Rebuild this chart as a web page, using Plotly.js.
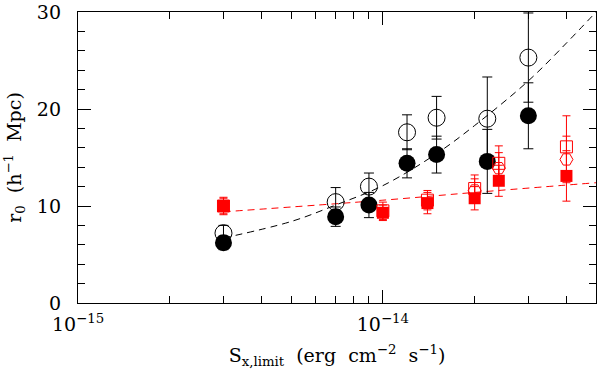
<!DOCTYPE html>
<html>
<head>
<meta charset="utf-8">
<script src="https://cdn.plot.ly/plotly-3.0.1.min.js"></script>
<style>
  html, body { margin: 0; padding: 0; background: #fff; }
  #chart { width: 600px; height: 370px; }
</style>
</head>
<body>
<div id="chart"></div>
<script>
// --- Data ---
const fluxBlack = [3e-15, 7e-15, 9e-15, 1.2e-14, 1.5e-14, 2.2e-14, 3e-14];
const r0Open = [7.2, 10.4, 12.0, 17.6, 19.1, 19.0, 25.3];
const errOpen = [0.8, 1.5, 1.4, 1.8, 2.2, 4.3, 4.6];
const r0Filled = [6.2, 8.9, 10.1, 14.4, 15.3, 14.6, 19.3];
const errFilled = [0.7, 1.0, 1.3, 1.5, 1.9, 3.3, 3.4];

const fluxRed = [3e-15, 1e-14, 1.4e-14, 2e-14, 2.4e-14, 4e-14];
const r0RedOpen = [10.0, 9.5, 10.6, 11.8, 14.4, 16.1];
const errRedOpen = [0.9, 0.9, 1.0, 1.4, 1.8, 3.2];
const r0RedFilled = [10.0, 9.3, 10.3, 10.8, 12.6, 13.1];
const errRedFilled = [0.8, 0.8, 1.1, 1.2, 1.6, 2.6];

const fluxHex = [2e-14, 2.4e-14, 4e-14];
const r0Hex = [11.6, 13.9, 14.8];
const errHex = [1.2, 1.6, 2.4];

// dashed fit curves
const fitBlackX = [3e-15, 5e-15, 7e-15, 1e-14, 1.5e-14, 2e-14, 3e-14, 4e-14, 5e-14];
const fitBlackY = [6.7, 8.4, 10.1, 12.1, 15.4, 18.3, 22.9, 26.8, 30.0];
const fitRedX = [3e-15, 1e-14, 2e-14, 5e-14];
const fitRedY = [9.4, 10.6, 11.4, 12.4];

const xMajor = [1e-15, 1e-14];
const xMajorText = ["10<sup>\u221215</sup>", "10<sup>\u221214</sup>"];
const xMinor = [2e-15, 3e-15, 4e-15, 5e-15, 6e-15, 7e-15, 8e-15, 9e-15,
                2e-14, 3e-14, 4e-14, 5e-14];

const RED = "#ff0000";
const FONT = "DejaVu Serif, Liberation Serif, serif";
const SP = "\u00a0\u00a0";

function errBar(arr, color, half) {
  return { type: "data", array: arr, visible: true, color: color, thickness: 1, width: half };
}

const traces = [
  {
    x: fitRedX, y: fitRedY, mode: "lines", type: "scatter",
    line: { color: RED, width: 1, dash: "7px,5px", shape: "spline" },
    hoverinfo: "skip",
  },
  {
    x: fitBlackX, y: fitBlackY, mode: "lines", type: "scatter",
    line: { color: "#000", width: 1, dash: "7px,5px", shape: "spline" },
    hoverinfo: "skip",
  },
  {
    x: fluxBlack, y: r0Open, mode: "markers", type: "scatter",
    marker: { symbol: "circle-open", size: 17, color: "#000", line: { width: 1, color: "#000" } },
    error_y: errBar(errOpen, "#000", 5),
  },
  {
    x: fluxBlack, y: r0Filled, mode: "markers", type: "scatter",
    marker: { symbol: "circle", size: 17, color: "#000" },
    error_y: errBar(errFilled, "#000", 5),
  },
  {
    x: fluxRed, y: r0RedOpen, mode: "markers", type: "scatter",
    marker: { symbol: "square-open", size: 12, color: RED, line: { width: 1, color: RED } },
    error_y: errBar(errRedOpen, RED, 4),
  },
  {
    x: fluxHex, y: r0Hex, mode: "markers", type: "scatter",
    marker: { symbol: "hexagon2-open", size: 13, color: RED, line: { width: 1, color: RED } },
    error_y: errBar(errHex, RED, 4),
  },
  {
    x: fluxRed, y: r0RedFilled, mode: "markers", type: "scatter",
    marker: { symbol: "square", size: 12, color: RED },
    error_y: errBar(errRedFilled, RED, 4),
  },
];

const axisCommon = {
  showline: true, linecolor: "#000", linewidth: 1.2, mirror: "allticks",
  ticks: "inside", ticklen: 13, tickwidth: 1, tickcolor: "#000",
  showgrid: false, zeroline: false,
  tickfont: { family: FONT, size: 19, color: "#000" },
};

const layout = {
  width: 600, height: 370,
  margin: { l: 78, r: 4, t: 12, b: 67 },
  paper_bgcolor: "#fff", plot_bgcolor: "#fff",
  showlegend: false,
  font: { family: FONT, color: "#000" },
  xaxis: Object.assign({}, axisCommon, {
    type: "log",
    range: [-15, Math.log10(5e-14)],
    tickmode: "array", tickvals: xMajor, ticktext: xMajorText,
    ticklabelstandoff: 4,
    minor: { tickmode: "array", tickvals: xMinor, ticks: "inside", ticklen: 7, tickcolor: "#000", tickwidth: 1 },
    title: {
      text: "S<sub>x,limit</sub>" + SP + "(erg" + SP + "cm<sup>\u22122</sup>" + SP + "s<sup>\u22121</sup>)",
      font: { family: FONT, size: 19 }, standoff: 14,
    },
  }),
  yaxis: Object.assign({}, axisCommon, {
    range: [0, 30],
    tickmode: "array", tickvals: [0, 10, 20, 30],
    ticklabelstandoff: 12,
    minor: { dtick: 2, ticks: "inside", ticklen: 7, tickcolor: "#000", tickwidth: 1 },
    title: {
      text: "r<sub>0</sub>" + SP + "(h<sup>\u22121</sup>" + SP + "Mpc)",
      font: { family: FONT, size: 19 }, standoff: 10,
    },
  }),
};

Plotly.newPlot("chart", traces, layout, { staticPlot: true });
</script>
</body>
</html>
